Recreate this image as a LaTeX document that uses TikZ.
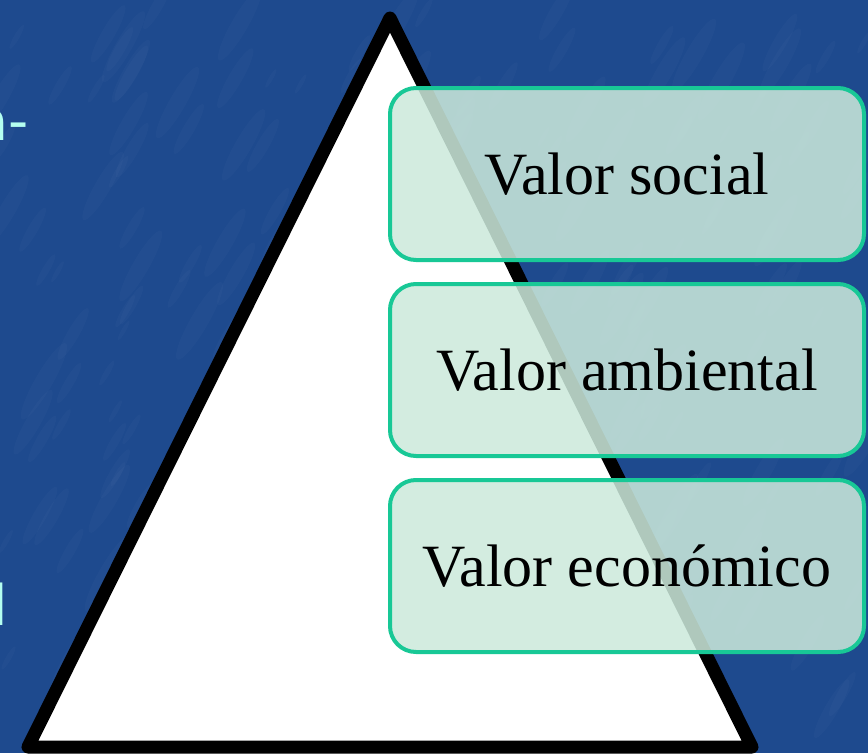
\documentclass[tikz,border=0pt]{standalone}
\usepackage{fontspec}
\setmainfont{Liberation Serif}
\newfontfamily\sidefont{DejaVu Sans}
\definecolor{bgblue}{RGB}{30,74,142}
\definecolor{boxfill}{RGB}{204,234,220}
\definecolor{boxline}{RGB}{24,200,150}
\definecolor{sidetext}{RGB}{180,255,240}
\begin{document}
\begin{tikzpicture}[x=1pt,y=-1pt,
  valbox/.style={draw=boxline, line width=4pt, rounded corners=26pt, fill=boxfill, fill opacity=0.86, draw opacity=1, text opacity=1, minimum width=474pt, minimum height=172pt, inner sep=0pt, font=\fontsize{60}{72}\selectfont},
  sidelabel/.style={text=sidetext, font=\sidefont\fontsize{56}{64}\selectfont, inner sep=0pt}]
\useasboundingbox (0,0) rectangle (868,753);
\fill[bgblue] (0,0) rectangle (868,753);
\pgfmathsetseed{7}
\foreach \i in {1,...,220}{
  \pgfmathsetmacro{\px}{rnd*868}
  \pgfmathsetmacro{\py}{rnd*753}
  \pgfmathsetmacro{\pr}{4+rnd*14}
  \fill[white, opacity=0.018, rotate around={60:(\px,\py)}] (\px,\py) ellipse ({\pr*2.5} and {\pr*0.5});
}
\coordinate (apex) at (390,18);
\coordinate (bl) at (28,747);
\coordinate (br) at (752,747);
\draw[fill=white, line width=13pt, line join=round] (apex) -- (br) -- (bl) -- cycle;
\node[sidelabel, anchor=base east] (t1) at (29,140) {a-};
\node[sidelabel, anchor=base east] (t2) at (8,625) {l};
\node[valbox] (b1) at (627,174) {Valor social};
\node[valbox] (b2) at (627,370) {Valor ambiental};
\node[valbox] (b3) at (627,566) {Valor económico};
\end{tikzpicture}
\end{document}
